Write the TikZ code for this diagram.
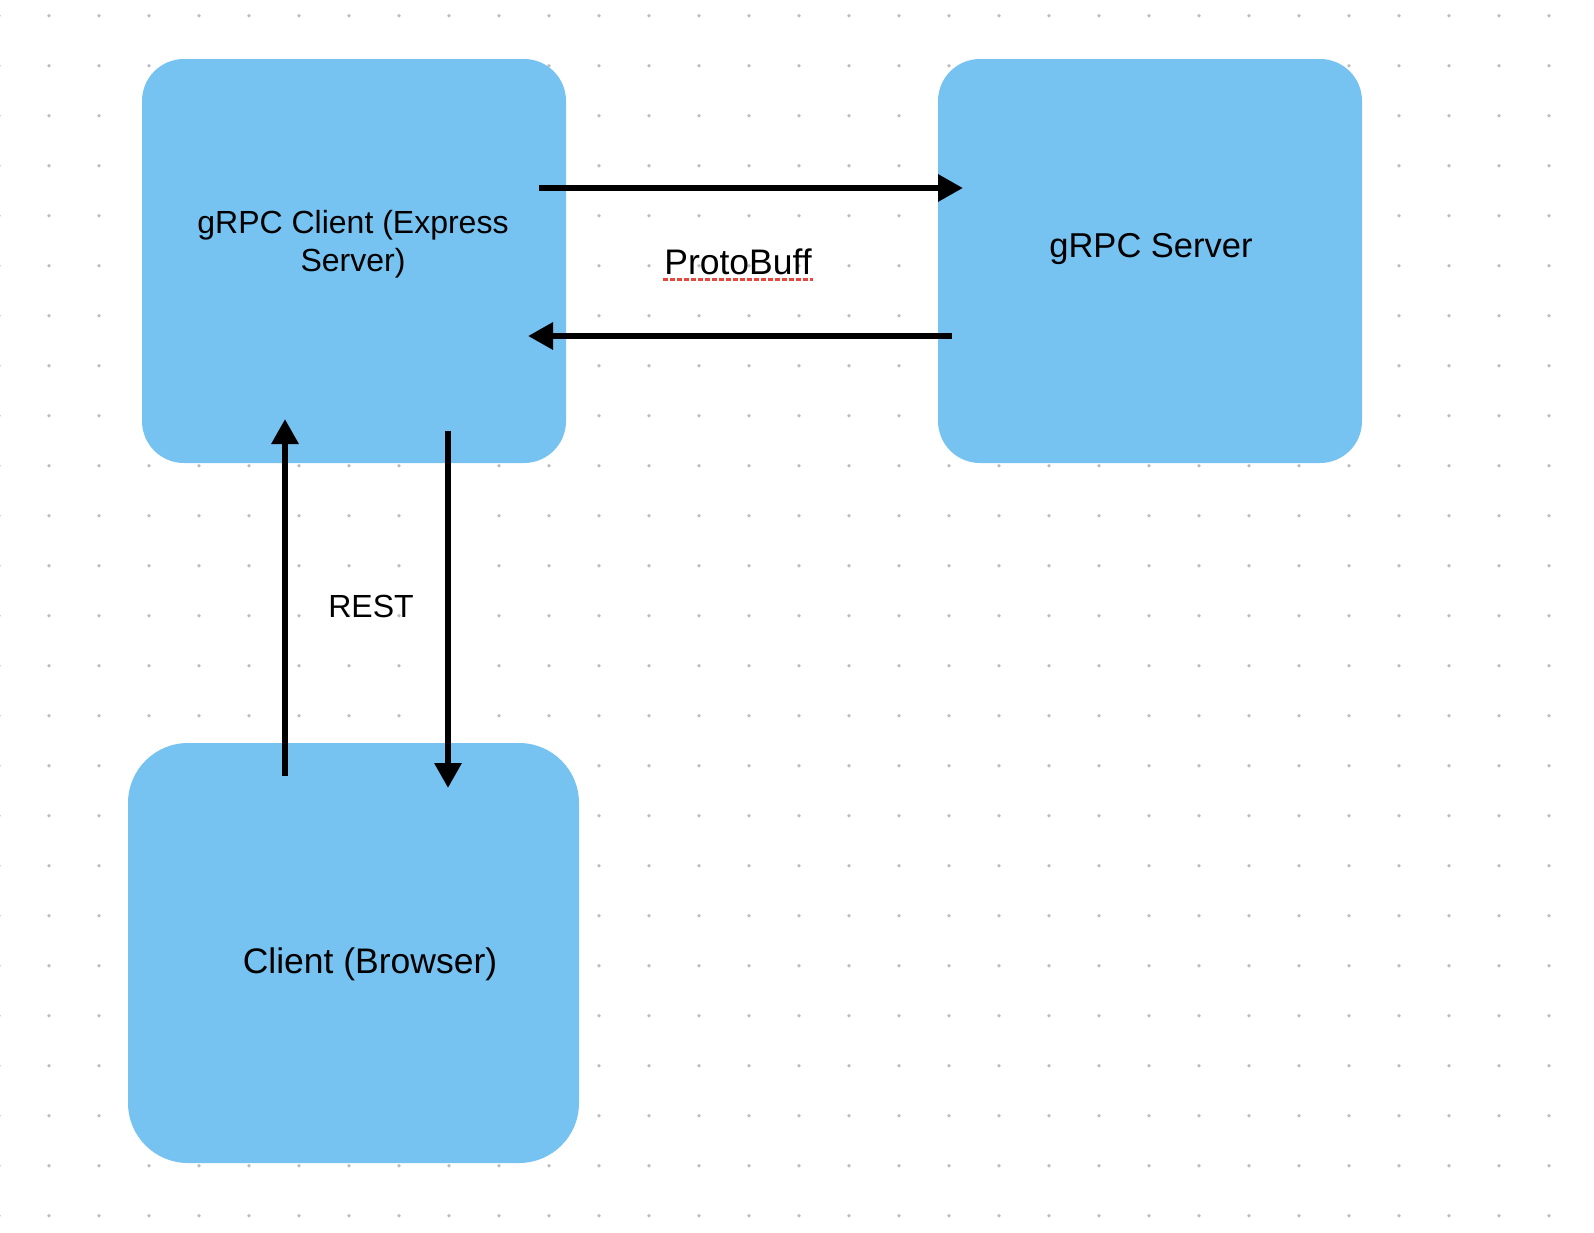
\documentclass[tikz,border=0pt]{standalone}
\usepackage{fontspec}
\setmainfont{Liberation Sans}
\usetikzlibrary{arrows.meta}
\definecolor{boxblue}{RGB}{118,194,240}
\definecolor{dotgray}{RGB}{190,190,190}
\definecolor{spellred}{RGB}{232,72,60}
\tikzset{
  box/.style={fill=boxblue, draw=none, rounded corners=#1, inner sep=0pt},
  box/.default=42pt,
  lbl/.style={inner sep=0pt, text=black},
  conn/.style={line width=6pt, draw=black, -{Triangle[length=25pt,width=26pt]}},
}
\begin{document}
\begin{tikzpicture}[x=1pt,y=-1pt]
\useasboundingbox[fill=white] (0,0) rectangle (1594,1232);
% dot grid
\foreach \i in {0,...,32}{
  \foreach \j in {0,...,24}{
    \fill[dotgray] ({-1+50*\i},{15.7+50*\j}) circle (1.9pt);
  }
}
% boxes
\node[box, minimum width=424pt, minimum height=404pt] (gclient) at (354,261) {};
\node[box, minimum width=424pt, minimum height=404pt] (gserver) at (1150,261) {};
\node[box=60pt, minimum width=451pt, minimum height=420pt] (browser) at (353.5,953) {};
% labels
\node[lbl, align=center, font=\fontsize{32}{38}\selectfont] (tclient) at (353,244) {gRPC Client (Express\\Server)};
\node[lbl, anchor=base, font=\fontsize{34.5}{40}\selectfont] (tserver) at (1151,257) {gRPC Server};
\node[lbl, anchor=base, font=\fontsize{32}{40}\selectfont] (trest) at (371,617) {REST};
\node[lbl, anchor=base, font=\fontsize{35.5}{42}\selectfont] (tbrowser) at (370,973) {Client (Browser)};
\node[lbl, anchor=base, font=\fontsize{35.5}{42}\selectfont] (tproto) at (738,274) {ProtoBuff};
% connector end points
\coordinate (a1s) at (539,188);
\coordinate (a1e) at (963,188);
\coordinate (a2s) at (952,336);
\coordinate (a2e) at (528,336);
\coordinate (a3s) at (285,776);
\coordinate (a3e) at (285,419);
\coordinate (a4s) at (448,431);
\coordinate (a4e) at (448,788);
\draw[conn] (a1s) -- (a1e);
\draw[conn] (a2s) -- (a2e);
\draw[conn] (a3s) -- (a3e);
\draw[conn] (a4s) -- (a4e);
% spell-check underline
\coordinate (u1) at (663,279);
\coordinate (u2) at (813,279);
\draw[spellred, line width=3pt, dash pattern=on 4.5pt off 2.5pt] (u1) -- (u2);
\end{tikzpicture}
\end{document}
